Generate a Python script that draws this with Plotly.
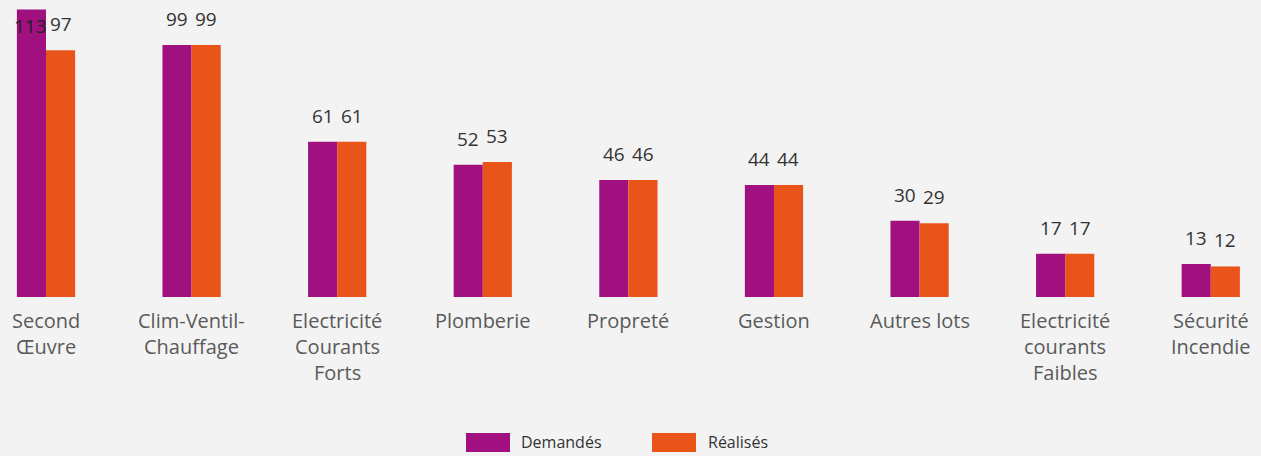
import plotly.graph_objects as go

categories = ["Second Œuvre", "Clim-Ventil-Chauffage", "Electricité Courants Forts", "Plomberie",
              "Propreté", "Gestion", "Autres lots", "Electricité courants Faibles", "Sécurité Incendie"]
category_lines = [["Second", "Œuvre"], ["Clim-Ventil-", "Chauffage"], ["Electricité", "Courants", "Forts"],
                  ["Plomberie"], ["Propreté"], ["Gestion"], ["Autres lots"],
                  ["Electricité", "courants", "Faibles"], ["Sécurité", "Incendie"]]
demandes = [113, 99, 61, 52, 46, 44, 30, 17, 13]
realises = [97, 99, 61, 53, 46, 44, 29, 17, 12]
series_names = ["Demandés", "Réalisés"]

PURPLE = "#a0107e"
ORANGE = "#e8541a"
BG = "#f3f3f3"
FONT = "Open Sans"
W, H = 1261, 456
PLOT_BOTTOM = 297  # px from top

fig = go.Figure()
fig.add_trace(go.Bar(x=categories, y=demandes, name=series_names[0], marker_color=PURPLE,
                     marker_line_width=0, showlegend=False))
fig.add_trace(go.Bar(x=categories, y=realises, name=series_names[1], marker_color=ORANGE,
                     marker_line_width=0, showlegend=False))

YMAX = 116.7
ann = []
for vals, xs in ((demandes, -14.5), (realises, 14.5)):
    for c, v in zip(categories, vals):
        if v > YMAX - 8:
            ann.append(dict(x=c, y=v, xref="x", yref="y", text=str(v), showarrow=False,
                            xshift=xs - 1, yanchor="top", yshift=-2,
                            font=dict(family=FONT, size=19, color="#222")))
        else:
            ann.append(dict(x=c, y=v, xref="x", yref="y", text=str(v), showarrow=False,
                            xshift=xs, yanchor="bottom", yshift=11,
                            font=dict(family=FONT, size=19, color="#333")))

for c, lines in zip(categories, category_lines):
    for i, line in enumerate(lines):
        ann.append(dict(x=c, y=0, xref="x", yref="paper", text=line, showarrow=False,
                        yanchor="middle", yshift=-(23 + 26 * i),
                        font=dict(family=FONT, size=20, color="#5a5a5a")))

# custom legend
def px_to_paper_y(py):
    return (PLOT_BOTTOM - py) / PLOT_BOTTOM

shapes = []
for (x0, x1), col in (((466, 510), PURPLE), ((652, 696), ORANGE)):
    shapes.append(dict(type="rect", xref="paper", yref="paper", x0=x0 / W, x1=x1 / W,
                       y0=px_to_paper_y(452), y1=px_to_paper_y(433), fillcolor=col, line_width=0))
for name, x0 in zip(series_names, (519, 706)):
    ann.append(dict(x=x0 / W, y=px_to_paper_y(442), xref="paper", yref="paper", text=name,
                    showarrow=False, xanchor="left", yanchor="middle",
                    font=dict(family=FONT, size=16, color="#333")))

fig.update_layout(
    width=W, height=H,
    margin=dict(l=0, r=0, t=0, b=H - PLOT_BOTTOM),
    paper_bgcolor=BG, plot_bgcolor=BG,
    barmode="group", bargap=0.6, bargroupgap=0,
    xaxis=dict(range=[-0.316, 8.345], showticklabels=False, showgrid=False, zeroline=False,
               showline=False, fixedrange=True),
    yaxis=dict(range=[0, YMAX], visible=False, showgrid=False, zeroline=False, fixedrange=True),
    annotations=ann, shapes=shapes,
    font=dict(family=FONT),
)

fig.write_html("out.html", config={"displayModeBar": False},
               post_script="document.body.style.margin='0';document.body.style.padding='0';"
                           "document.body.style.background='" + BG + "';")
